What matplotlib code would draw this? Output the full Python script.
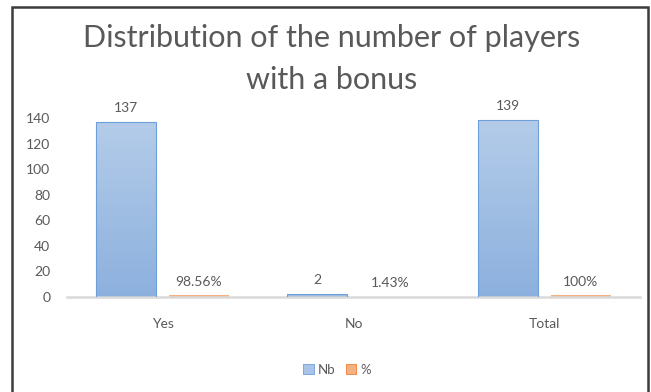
import numpy as np
import matplotlib
matplotlib.use('Agg')
import matplotlib.pyplot as plt
from matplotlib.patches import Patch, Rectangle
from matplotlib.colors import LinearSegmentedColormap

categories = ['Yes', 'No', 'Total']
nb_values = [137, 2, 139]
pct_values = [0.9856, 0.0143, 1.0]
y_ticks = [0, 20, 40, 60, 80, 100, 120, 140]

TEXT = '#595959'
plt.rcParams['font.family'] = ['Lato', 'DejaVu Sans']


def fmt_pct(v):
    s = '{:.2f}'.format(v * 100).rstrip('0').rstrip('.')
    return s + '%'


fig = plt.figure(figsize=(6.51, 3.92), dpi=100)
ax = fig.add_axes([67 / 651, 95.3 / 392, 573 / 651, 178.4 / 392])

x = np.arange(len(categories))
width = 0.313
off = 0.19

nb_bars = ax.bar(x - off, nb_values, width, color='none', edgecolor='#6d9fd8', linewidth=0.8, zorder=3)
# percentage bars sit on a 0-1 scale, so they stay flat against the axis
pct_bars = ax.bar(x + off, pct_values, width, color='#f4b183', linewidth=0, zorder=1)

# vertical gradient fill for the Nb bars
blue = LinearSegmentedColormap.from_list('nb', ['#8cb0de', '#b4cce9'])
grad = np.linspace(0, 1, 256).reshape(-1, 1)
for b in nb_bars:
    x0, y0 = b.get_x(), b.get_y()
    im = ax.imshow(grad, extent=[x0, x0 + b.get_width(), y0, y0 + b.get_height()],
                   origin='lower', aspect='auto', cmap=blue, zorder=2)
    im.set_clip_path(b)

for b, v in zip(nb_bars, nb_values):
    ax.annotate(str(v), (b.get_x() + b.get_width() / 2, b.get_height()),
                xytext=(0, 9.9), textcoords='offset points', ha='center', va='center',
                fontsize=10, color=TEXT, annotation_clip=False)
for b, v in zip(pct_bars, pct_values):
    ax.annotate(fmt_pct(v), (b.get_x() + b.get_width() / 2, b.get_height()),
                xytext=(0, 9.9), textcoords='offset points', ha='center', va='center',
                fontsize=10, color=TEXT, annotation_clip=False)

ax.set_xlim(-0.5, len(categories) - 0.5)
ax.set_ylim(0, 140)
ax.set_yticks(y_ticks)
ax.set_xticks(x)
ax.set_xticklabels(categories)
ax.tick_params(axis='y', length=0, pad=12, labelsize=10, labelcolor=TEXT)
ax.tick_params(axis='x', length=0, pad=15, labelsize=10, labelcolor=TEXT)
for s in ['top', 'right', 'left']:
    ax.spines[s].set_visible(False)
ax.spines['bottom'].set_color('#d9d9d9')
ax.spines['bottom'].set_linewidth(1.8)
ax.spines['bottom'].set_zorder(2.5)

fig.text(332 / 651, 1 - 24 / 392, 'Distribution of the number of players\nwith a bonus',
         ha='center', va='top', fontsize=22, color=TEXT, linespacing=1.6)

handles = [Patch(facecolor='#a9c4e8', edgecolor='#6d9fd8', linewidth=0.6),
           Patch(facecolor='#f4b183', edgecolor='#ed7d31', linewidth=0.6)]
fig.legend(handles, ['Nb', '%'], loc='center', bbox_to_anchor=(337 / 651, 22 / 392),
           ncol=2, frameon=False, fontsize=9.5, labelcolor=TEXT,
           handlelength=0.8, handleheight=0.8, handletextpad=0.3, columnspacing=0.8)

# chart border
fig.patches.append(Rectangle((12 / 651, -0.05), 636 / 651, 1.05 - 7 / 392,
                             transform=fig.transFigure, fill=False,
                             edgecolor='#3c3c3c', linewidth=1.8))

fig.savefig('out.png', dpi=100)
